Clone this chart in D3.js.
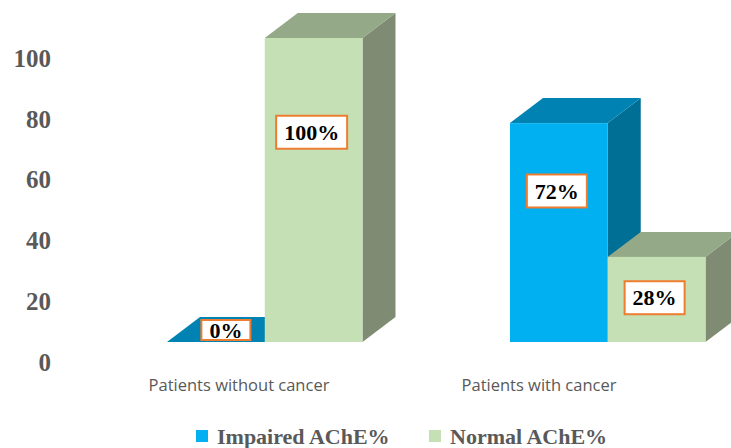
<!DOCTYPE html>
<html>
<head>
<meta charset="utf-8">
<script src="https://cdn.jsdelivr.net/npm/d3@7"></script>
<style>
  body { margin: 0; background: #fff; }
</style>
</head>
<body>
<script>
// data
const categories = ["Patients without cancer", "Patients with cancer"];
const seriesNames = ["Impaired AChE%", "Normal AChE%"];
const impaired = [0, 72];
const normal = [100, 28];
const yTicks = [0, 20, 40, 60, 80, 100];

const W = 731, H = 448;
const depth = {dx: 33, dy: -25};

const colors = {
  "Impaired AChE%": {front: "#00B0F0", top: "#0083B3", side: "#006F96"},
  "Normal AChE%": {front: "#C5E0B4", top: "#94A987", side: "#7F8C73"}
};

const svg = d3.select("body").append("svg")
  .attr("width", W)
  .attr("height", H)
  .style("font-family", "'Liberation Serif', serif");

// scales
const y = d3.scaleLinear().domain([0, 100]).range([342, 38]);

const x0 = d3.scaleBand()
  .domain(categories)
  .range([167, 705.5])
  .paddingInner(0.43)
  .paddingOuter(0);

const x1 = d3.scaleBand()
  .domain(seriesNames)
  .range([0, x0.bandwidth()])
  .padding(0);

// category labels sit a bit left of the bars
const xLabel = d3.scalePoint().domain(categories).range([239, 539]);

// y tick labels (no axis line)
svg.append("g").selectAll("text")
  .data(yTicks)
  .join("text")
  .attr("x", 51)
  .attr("y", d => y(d) + 20)
  .attr("dy", "0.35em")
  .attr("text-anchor", "end")
  .attr("fill", "#595959")
  .attr("font-weight", "bold")
  .attr("font-size", 25)
  .text(d => d);

// bars
const rows = [];
categories.forEach((c, i) => {
  rows.push({cat: c, series: seriesNames[0], value: impaired[i]});
  rows.push({cat: c, series: seriesNames[1], value: normal[i]});
});

const bars = svg.append("g").selectAll("g")
  .data(rows)
  .join("g");

bars.each(function(d) {
  const g = d3.select(this);
  const xl = x0(d.cat) + x1(d.series);
  const xr = xl + x1.bandwidth();
  const yt = y(d.value), yb = y(0);
  const c = colors[d.series];
  const {dx, dy} = depth;
  // side
  if (d.value > 0) {
    g.append("path")
      .attr("d", `M${xr},${yt}L${xr + dx},${yt + dy}L${xr + dx},${yb + dy}L${xr},${yb}Z`)
      .attr("fill", c.side);
  }
  // top
  g.append("path")
    .attr("d", `M${xl},${yt}L${xl + dx},${yt + dy}L${xr + dx},${yt + dy}L${xr},${yt}Z`)
    .attr("fill", c.top);
  // front
  if (d.value > 0) {
    g.append("rect")
      .attr("x", xl)
      .attr("y", yt)
      .attr("width", xr - xl)
      .attr("height", yb - yt)
      .attr("fill", c.front);
  }
});

// data labels
bars.each(function(d) {
  const g = d3.select(this);
  let cx = x0(d.cat) + x1(d.series) + x1.bandwidth() / 2 - 2;
  let cy, bh;
  if (d.value === 0) {
    cx += 12; cy = y(0) - 12; bh = 20;
  } else {
    cy = y(d.value * (d.value >= 50 ? 0.69 : 0.52));
    bh = 33;
  }
  const t = g.append("text")
    .attr("x", cx)
    .attr("y", cy)
    .attr("dy", "0.35em")
    .attr("text-anchor", "middle")
    .attr("font-weight", "bold")
    .attr("font-size", 22)
    .attr("fill", "#000")
    .text(d.value + "%");
  const bw = t.node().getComputedTextLength() + 16;
  g.insert("rect", "text")
    .attr("x", cx - bw / 2)
    .attr("y", cy - bh / 2)
    .attr("width", bw)
    .attr("height", bh)
    .attr("fill", "#fff")
    .attr("stroke", "#ED7D31")
    .attr("stroke-width", 2);
});

// category labels
svg.append("g").selectAll("text")
  .data(categories)
  .join("text")
  .attr("x", d => xLabel(d))
  .attr("y", 385)
  .attr("dy", "0.35em")
  .attr("text-anchor", "middle")
  .attr("fill", "#595959")
  .attr("font-family", "'Open Sans', sans-serif")
  .attr("font-size", 16.5)
  .text(d => d);

// legend
const legendX = [196, 429];
const legend = svg.append("g").selectAll("g")
  .data(seriesNames)
  .join("g")
  .attr("transform", (d, i) => `translate(${legendX[i]},436)`);

legend.append("rect")
  .attr("x", 0).attr("y", -6)
  .attr("width", 12).attr("height", 12)
  .attr("fill", d => colors[d].front);

legend.append("text")
  .attr("x", 21)
  .attr("y", 0)
  .attr("dy", "0.35em")
  .attr("fill", "#595959")
  .attr("font-weight", "bold")
  .attr("font-size", 22)
  .text(d => d);
</script>
</body>
</html>
